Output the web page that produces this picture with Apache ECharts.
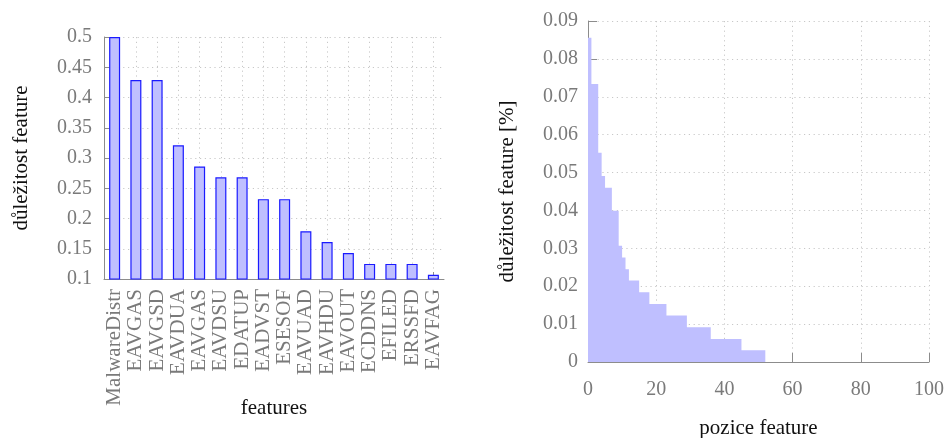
<!DOCTYPE html>
<html>
<head>
<meta charset="utf-8">
<script src="https://cdn.jsdelivr.net/npm/echarts@6/dist/echarts.min.js"></script>
<style>
  html, body { margin: 0; padding: 0; background: #fff; }
  #chart { width: 949px; height: 438px; }
</style>
</head>
<body>
<div id="chart"></div>
<script>
// Top features and their importance (left panel)
const featureNames = ['MalwareDistr', 'EAVGAS', 'EAVGSD', 'EAVDUA', 'EAVGAS', 'EAVDSU', 'EDATUP', 'EADVST',
  'ESESOF', 'EAVUAD', 'EAVHDU', 'EAVOUT', 'ECDDNS', 'EFILED', 'ERSSFD', 'EAVFAG'];
const featureImportance = [0.5, 0.429, 0.429, 0.321, 0.286, 0.268, 0.268, 0.232,
  0.232, 0.179, 0.161, 0.143, 0.125, 0.125, 0.125, 0.107];

// Importance by feature position (right panel): each step starts at stepStart[i] with value stepValue[i]
const stepStart = [0, 1, 3, 4, 5, 7, 9, 10, 11, 12, 15, 18, 23, 29, 36, 45];
const stepValue = [0.0856, 0.0734, 0.0552, 0.0491, 0.046, 0.0399, 0.0307, 0.0276,
  0.0245, 0.0215, 0.0184, 0.0153, 0.0123, 0.0092, 0.0061, 0.0031];
const stepEnd = 52;

const FONT = '"Liberation Serif", "DejaVu Serif", serif';
const TICK_GRAY = '#7a7a7a';
const AXIS_GRAY = '#8c8c8c';
const GRID_DOTS = { color: '#c8c8c8', width: 1, type: [1.2, 3.6] };

const stepData = stepStart.map((x, i) => [x, stepValue[i]]);
stepData.push([stepEnd, stepValue[stepValue.length - 1]]);

const chart = echarts.init(document.getElementById('chart'), null, { renderer: 'canvas' });

chart.setOption({
  animation: false,
  backgroundColor: '#fff',
  textStyle: { fontFamily: FONT },
  grid: [
    { left: 104, top: 37, width: 340, height: 242, containLabel: false, outerBoundsMode: 'none' },
    { left: 588, top: 21, width: 341, height: 341, containLabel: false, outerBoundsMode: 'none' }
  ],
  xAxis: [
    {
      gridIndex: 0,
      type: 'category',
      data: featureNames,
      boundaryGap: true,
      name: 'features',
      nameLocation: 'middle',
      nameGap: 119,
      nameMoveOverlap: false,
      nameTextStyle: { color: '#111', fontSize: 21, fontFamily: FONT },
      axisLine: { show: true, lineStyle: { color: AXIS_GRAY, width: 1 } },
      axisTick: { show: true, inside: true, length: 7, alignWithLabel: true, lineStyle: { color: AXIS_GRAY } },
      axisLabel: { rotate: 90, margin: 10, color: TICK_GRAY, fontSize: 21, fontFamily: FONT, interval: 0 },
      splitLine: { show: true, alignWithLabel: true, lineStyle: GRID_DOTS }
    },
    {
      gridIndex: 1,
      type: 'value',
      min: 0,
      max: 100,
      interval: 20,
      name: 'pozice feature',
      nameLocation: 'middle',
      nameGap: 56,
      nameMoveOverlap: false,
      nameTextStyle: { color: '#111', fontSize: 21, fontFamily: FONT },
      axisLine: { show: true, lineStyle: { color: AXIS_GRAY, width: 1 } },
      axisTick: { show: true, inside: true, length: 9, lineStyle: { color: AXIS_GRAY } },
      axisLabel: { margin: 18, color: TICK_GRAY, fontSize: 20, fontFamily: FONT },
      splitLine: { show: true, lineStyle: GRID_DOTS }
    }
  ],
  yAxis: [
    {
      gridIndex: 0,
      type: 'value',
      min: 0.1,
      max: 0.5,
      interval: 0.05,
      name: 'důležitost feature',
      nameLocation: 'middle',
      nameGap: 72,
      nameMoveOverlap: false,
      nameTextStyle: { color: '#111', fontSize: 21, fontFamily: FONT },
      axisLine: { show: true, lineStyle: { color: AXIS_GRAY, width: 1 } },
      axisTick: { show: true, inside: true, length: 5, lineStyle: { color: AXIS_GRAY } },
      axisLabel: { margin: 12, color: TICK_GRAY, fontSize: 20, fontFamily: FONT },
      splitLine: { show: true, lineStyle: GRID_DOTS }
    },
    {
      gridIndex: 1,
      type: 'value',
      min: 0,
      max: 0.09,
      interval: 0.01,
      name: 'důležitost feature [%]',
      nameLocation: 'middle',
      nameGap: 70,
      nameMoveOverlap: false,
      nameTextStyle: { color: '#111', fontSize: 21, fontFamily: FONT },
      axisLine: { show: true, lineStyle: { color: AXIS_GRAY, width: 1 } },
      axisTick: { show: true, inside: true, length: 9, lineStyle: { color: AXIS_GRAY } },
      axisLabel: { margin: 10, color: TICK_GRAY, fontSize: 20, fontFamily: FONT },
      splitLine: { show: true, lineStyle: GRID_DOTS }
    }
  ],
  series: [
    {
      type: 'bar',
      xAxisIndex: 0,
      yAxisIndex: 0,
      data: featureImportance,
      barWidth: 11,
      itemStyle: { color: '#bfbfff', borderColor: '#1a1aff', borderWidth: 1.2 }
    },
    {
      type: 'line',
      xAxisIndex: 1,
      yAxisIndex: 1,
      step: 'end',
      data: stepData,
      symbol: 'none',
      lineStyle: { width: 0, opacity: 0 },
      areaStyle: { color: '#bfbfff', opacity: 1 }
    }
  ]
});
</script>
</body>
</html>
